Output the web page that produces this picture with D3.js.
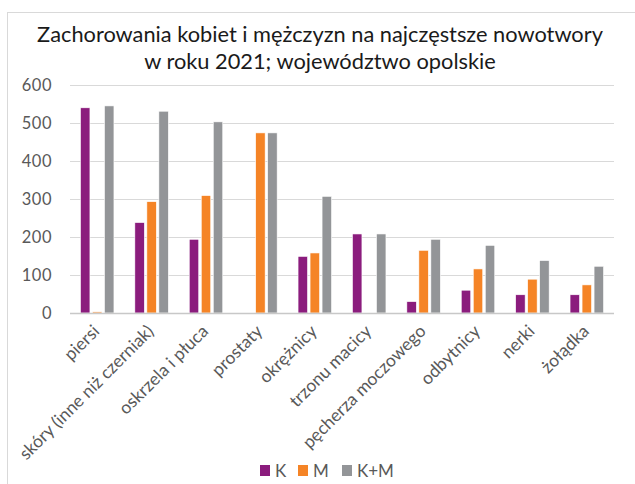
<!DOCTYPE html>
<html><head><meta charset="utf-8">
<script src="https://cdn.jsdelivr.net/npm/d3@7"></script>
<style>body{margin:0;background:#fff}svg{display:block}</style>
</head><body>
<svg id="c" width="635" height="484"></svg>
<script>
const categories = ["piersi","skóry (inne niż czerniak)","oskrzela i płuca","prostaty","okrężnicy","trzonu macicy","pęcherza moczowego","odbytnicy","nerki","żołądka"];
const seriesNames = ["K","M","K+M"];
const valuesK  = [540, 238, 194, 0, 149, 208, 30, 60, 48, 48];
const valuesM  = [3, 293, 309, 474, 158, 0, 165, 116, 89, 74];
const valuesKM = [545, 531, 503, 474, 307, 208, 194, 178, 138, 123];
const yTicks = [0,100,200,300,400,500,600];
const colors = ["#8B1C7D","#F58426","#939598"];
const titleLines = ["Zachorowania kobiet i mężczyzn na najczęstsze nowotwory","w roku 2021; województwo opolskie"];

const svg = d3.select("#c");
const font = "Lato, 'Open Sans', sans-serif";
const L = 70, R = 614, T = 85, B = 313;

svg.append("rect").attr("x",7.5).attr("y",12.5).attr("width",700).attr("height",600)
  .attr("fill","none").attr("stroke","#d9d9d9").attr("stroke-width",1);

const x = d3.scaleBand().domain(categories).range([L,R]).padding(0);
const xs = d3.scaleBand().domain(seriesNames).range([-16.75,16.75]).paddingInner(0.21).paddingOuter(0);
const y = d3.scaleLinear().domain([0,600]).range([B,T]);

// gridlines
svg.append("g").selectAll("line").data(yTicks.filter(d=>d>0)).join("line")
  .attr("x1",L).attr("x2",R).attr("y1",d=>Math.round(y(d))+0.5).attr("y2",d=>Math.round(y(d))+0.5)
  .attr("stroke","#d9d9d9").attr("stroke-width",1.2);

// y labels
svg.append("g").selectAll("text").data(yTicks).join("text")
  .attr("x",52).attr("y",d=>y(d)).attr("dy","0.36em").attr("text-anchor","end")
  .attr("font-family",font).attr("font-size",16.5).attr("letter-spacing",0.5).attr("fill","#595959").text(d=>d);

const series = [valuesK, valuesM, valuesKM];
const bars = [];
categories.forEach((c,i)=>seriesNames.forEach((s,j)=>bars.push({c,s,v:series[j][i],j})));
svg.append("g").selectAll("rect").data(bars.filter(d=>d.v>0)).join("rect")
  .attr("x",d=>x(d.c)+x.bandwidth()/2+xs(d.s))
  .attr("width",xs.bandwidth())
  .attr("y",d=>y(d.v)).attr("height",d=>y(0)-y(d.v))
  .attr("fill",d=>colors[d.j]).attr("stroke","#fff").attr("stroke-width",0.6);

// baseline
svg.append("line").attr("x1",L).attr("x2",R).attr("y1",y(0)+0.5).attr("y2",y(0)+0.5)
  .attr("stroke","#c8c8c8").attr("stroke-width",1.5);

// x labels
svg.append("g").selectAll("text").data(categories).join("text")
  .attr("transform",d=>`translate(${x(d)+x.bandwidth()/2-1},${y(0)+15}) rotate(-45)`)
  .attr("text-anchor","end").attr("dy","0.35em")
  .attr("font-family",font).attr("font-size",17.5).attr("fill","#595959").text(d=>d);

// title
svg.append("g").selectAll("text").data(titleLines).join("text")
  .attr("x",320).attr("y",(d,i)=>42+i*27).attr("text-anchor","middle")
  .attr("font-family",font).attr("font-size",21.8).attr("fill","#1a1a1a").text(d=>d);

// legend
const legX = [260, 298, 342];
const lg = svg.append("g").selectAll("g").data(seriesNames).join("g")
  .attr("transform",(d,i)=>`translate(${legX[i]},465)`);
lg.append("rect").attr("width",10).attr("height",11).attr("fill",(d,i)=>colors[i]);
lg.append("text").attr("x",15).attr("y",11.5).attr("font-family",font).attr("font-size",17)
  .attr("fill","#595959").text(d=>d);
</script>
</body></html>
